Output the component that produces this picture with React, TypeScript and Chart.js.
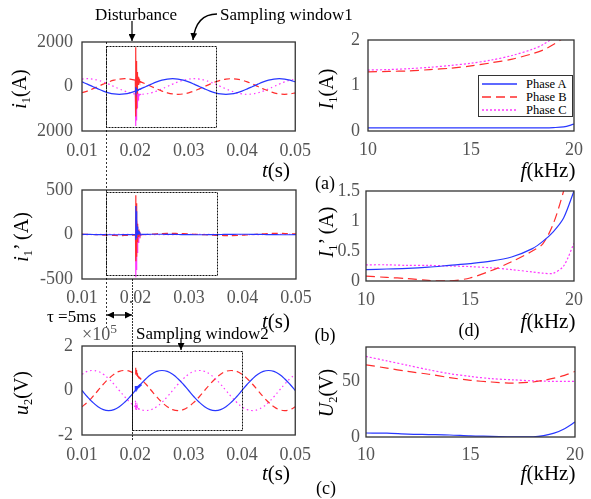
import React, { useEffect, useRef } from "react";
import { Chart, registerables } from "chart.js";

Chart.register(...registerables);

const FONT = '"Liberation Serif", "Times New Roman", serif';
const BLUE = "rgb(40,55,255)";
const RED = "rgb(255,45,45)";
const MAGENTA = "rgb(255,55,255)";
const TICK_COLOR = "#555";

// ---------- time-domain data (s) ----------
const tTime = [0.010,0.011,0.012,0.013,0.014,0.015,0.016,0.017,0.018,0.019,0.020,0.021,0.022,0.023,0.024,0.025,0.026,0.027,0.028,0.029,0.030,0.031,0.032,0.033,0.034,0.035,0.036,0.037,0.038,0.039,0.040,0.041,0.042,0.043,0.044,0.045,0.046,0.047,0.048,0.049,0.050];
const spikeTime = [0.02,0.02004,0.02008,0.02012,0.02016,0.0202,0.02024,0.02028,0.02032,0.02036,0.0204,0.02046,0.02052,0.02058,0.02064,0.0207,0.0208,0.0209,0.021];

// i1 (A)
const i1A = [206,108,0,-108,-206,-283,-333,-350,-333,-283,-206,-108,0,108,206,283,333,350,333,283,206,108,0,-108,-206,-283,-333,-350,-333,-283,-206,-108,0,108,206,283,333,350,333,283,206];
const i1B = [-283,-206,-108,0,108,206,283,333,350,333,283,206,108,0,-108,-206,-283,-333,-350,-333,-283,-206,-108,0,108,206,283,333,350,333,283,206,108,0,-108,-206,-283,-333,-350,-333,-283];
const i1C = [333,350,333,283,206,108,0,-108,-206,-283,-333,-350,-333,-283,-206,-108,0,108,206,283,333,350,333,283,206,108,0,-108,-206,-283,-333,-350,-333,-283,-206,-108,0,108,206,283,333];
const i1ASpike = [-206,-60,-280,-20,-240,-80,-200,-120,-180,-140,-170,-150,-160,-150,-140,-130,-120,-112,-108];
const i1BSpike = [283,1760,-1350,1500,-1000,1150,-600,850,-300,650,0,520,100,420,160,330,240,220,206];
const i1CSpike = [-333,250,-1780,400,-1500,100,-1200,-100,-950,-200,-750,-280,-600,-330,-480,-380,-360,-352,-350];

// i1' (A)
const i1pA = [2,1,0,-1,-2,-3,-3,-3,-2,-1,0,1,2,3,3,3,2,1,0,-1,-2,-3,-3,-3,-2,-1,0,1,2,3,3,3,2,1,0,-1,-2,-3,-3,-3,-2];
const i1pB = [4,2,0,-3,-6,-9,-11,-12,-11,-9,-6,-3,0,4,8,11,12,12,11,9,6,3,0,-3,-6,-9,-11,-12,-12,-11,-8,-4,0,4,8,11,12,12,11,9,6];
const i1pC = [-2,-1,0,1,2,3,3,3,2,1,0,-1,-2,-3,-3,-3,-2,-1,0,1,2,3,3,3,2,1,0,-1,-2,-3,-3,-3,-2,-1,0,1,2,3,3,3,2];
const i1pASpike = [0,320,-60,260,-40,200,-20,140,0,90,10,60,15,40,15,25,10,5,0];
const i1pBSpike = [0,440,-300,350,-250,250,-150,180,-80,120,-40,80,-20,50,-10,30,5,2,0];
const i1pCSpike = [0,200,-480,150,-400,80,-300,40,-200,20,-140,10,-90,0,-50,-10,-20,-5,0];

// u2 (x10^5 V)
const u2A = [0,-0.28,-0.53,-0.73,-0.86,-0.9,-0.86,-0.73,-0.53,-0.28,0,0.28,0.53,0.73,0.86,0.9,0.86,0.73,0.53,0.28,0,-0.28,-0.53,-0.73,-0.86,-0.9,-0.86,-0.73,-0.53,-0.28,0,0.28,0.53,0.73,0.86,0.9,0.86,0.73,0.53,0.28,0];
const u2B = [-0.73,-0.53,-0.28,0,0.28,0.53,0.73,0.86,0.9,0.86,0.73,0.53,0.28,0,-0.28,-0.53,-0.73,-0.86,-0.9,-0.86,-0.73,-0.53,-0.28,0,0.28,0.53,0.73,0.86,0.9,0.86,0.73,0.53,0.28,0,-0.28,-0.53,-0.73,-0.86,-0.9,-0.86,-0.73];
const u2C = [0.73,0.86,0.9,0.86,0.73,0.53,0.28,0,-0.28,-0.53,-0.73,-0.86,-0.9,-0.86,-0.73,-0.53,-0.28,0,0.28,0.53,0.73,0.86,0.9,0.86,0.73,0.53,0.28,0,-0.28,-0.53,-0.73,-0.86,-0.9,-0.86,-0.73,-0.53,-0.28,0,0.28,0.53,0.73];
const u2ASpike = [0,0.18,0.02,0.2,0.06,0.2,0.1,0.18,0.12,0.18,0.14,0.17,0.16,0.18,0.19,0.2,0.23,0.25,0.28];
const u2BSpike = [0.73,1.02,0.78,0.98,0.8,0.92,0.76,0.85,0.72,0.78,0.68,0.7,0.64,0.64,0.6,0.6,0.57,0.55,0.53];
const u2CSpike = [-0.73,-0.45,-0.9,-0.55,-0.88,-0.65,-0.86,-0.7,-0.84,-0.75,-0.82,-0.78,-0.82,-0.8,-0.83,-0.84,-0.85,-0.855,-0.86];

// sampling windows
const window1T = [0.0145, 0.0352];
const window1I1 = [-1830, 1820];
const window1I1p = [-460, 475];
const window2T = [0.0194, 0.04];
const window2U2 = [-1.78, 1.78];

// ---------- frequency-domain data (kHz) ----------
const freqKHz = [10,11,12,13,14,15,16,17,18,18.5,19,19.5,20];
const I1A = [0.07,0.07,0.07,0.07,0.07,0.07,0.07,0.07,0.07,0.07,0.075,0.09,0.15];
const I1B = [1.30,1.31,1.32,1.35,1.38,1.43,1.50,1.58,1.70,1.78,1.90,2.05,2.25];
const I1C = [1.34,1.35,1.37,1.40,1.44,1.49,1.56,1.66,1.80,1.90,2.05,2.25,2.5];
const I1pA = [0.19,0.20,0.21,0.23,0.26,0.29,0.33,0.40,0.54,0.66,0.82,1.05,1.5];
const I1pB = [0.08,0.06,0.04,0.01,0.0,0.05,0.17,0.32,0.5,0.62,0.95,1.5,2.2];
const I1pC = [0.27,0.27,0.26,0.26,0.25,0.24,0.22,0.19,0.15,0.13,0.13,0.25,0.63];
const U2A = [3.6,3.4,2.6,2.2,1.8,1.0,0.6,0.1,0.1,1.2,3.5,7.5,13.5];
const U2B = [65,62,59,56.5,53.5,51,49.5,48.5,49.5,51,53,55.5,59];
const U2C = [72.5,68.5,64.5,60.5,57,54.5,52.5,51.5,50.5,50.3,50,50,50];

const legendLabels = ["Phase A", "Phase B", "Phase C"];

type Series = { x: number[]; y: number[]; color: string; dash: number[]; tension?: number; width?: number };
type Axis = { min: number; max: number; step: number; pad: number; fmt: (v: number) => string };
type PlotSpec = {
  canvas: { left: number; top: number; width: number; height: number };
  area: { left: number; top: number; right: number; bottom: number };
  x: Axis;
  y: Axis;
  series: Series[];
  box?: { t: number[]; v: number[] };
};

const DASH: number[] = [6, 4];
const DOT: number[] = [1.5, 3];
const RDASH: number[] = [9, 5];
const RDOT: number[] = [2, 2];

const tAxis: Axis = { min: 0.01, max: 0.05, step: 0.01, pad: 9, fmt: (v) => v.toFixed(2) };
const fAxis: Axis = { min: 10, max: 20, step: 5, pad: 8, fmt: (v) => String(v) };

const specs: PlotSpec[] = [
  {
    canvas: { left: 0, top: 0, width: 320, height: 160 },
    area: { left: 82, top: 42, right: 296, bottom: 131 },
    x: tAxis,
    y: { min: -2000, max: 2000, step: 2000, pad: 9, fmt: (v) => String(Math.abs(v)) },
    series: [
      { x: spikeTime, y: i1ASpike, color: BLUE, dash: [] },
      { x: spikeTime, y: i1BSpike, color: RED, dash: [] },
      { x: spikeTime, y: i1CSpike, color: MAGENTA, dash: [] },
      { x: tTime, y: i1A, color: BLUE, dash: [], tension: 0.4 },
      { x: tTime, y: i1B, color: RED, dash: DASH, tension: 0.4 },
      { x: tTime, y: i1C, color: MAGENTA, dash: DOT, tension: 0.4 },
    ],
    box: { t: window1T, v: window1I1 },
  },
  {
    canvas: { left: 0, top: 160, width: 320, height: 160 },
    area: { left: 82, top: 190, right: 296, bottom: 279 },
    x: { ...tAxis, pad: 8 },
    y: { min: -500, max: 500, step: 500, pad: 9, fmt: (v) => String(v) },
    series: [
      { x: spikeTime, y: i1pASpike, color: BLUE, dash: [] },
      { x: spikeTime, y: i1pBSpike, color: RED, dash: [] },
      { x: spikeTime, y: i1pCSpike, color: MAGENTA, dash: [] },
      { x: tTime, y: i1pA, color: BLUE, dash: [], tension: 0.4 },
      { x: tTime, y: i1pB, color: RED, dash: DASH, tension: 0.4 },
      { x: tTime, y: i1pC, color: MAGENTA, dash: DOT, tension: 0.4 },
    ],
    box: { t: window1T, v: window1I1p },
  },
  {
    canvas: { left: 0, top: 320, width: 320, height: 179 },
    area: { left: 82, top: 346, right: 296, bottom: 435 },
    x: { ...tAxis, pad: 9 },
    y: { min: -2, max: 2, step: 2, pad: 9, fmt: (v) => String(v) },
    series: [
      { x: spikeTime, y: u2ASpike, color: BLUE, dash: [], width: 2 },
      { x: spikeTime, y: u2BSpike, color: RED, dash: [] },
      { x: spikeTime, y: u2CSpike, color: MAGENTA, dash: DOT },
      { x: tTime, y: u2A, color: BLUE, dash: [], tension: 0.4 },
      { x: tTime, y: u2B, color: RED, dash: DASH, tension: 0.4 },
      { x: tTime, y: u2C, color: MAGENTA, dash: DOT, tension: 0.4 },
    ],
    box: { t: window2T, v: window2U2 },
  },
  {
    canvas: { left: 300, top: 0, width: 291, height: 160 },
    area: { left: 368, top: 40, right: 582, bottom: 131 },
    x: fAxis,
    y: { min: 0, max: 2, step: 1, pad: 8, fmt: (v) => String(v) },
    series: [
      { x: freqKHz, y: I1A, color: BLUE, dash: [], tension: 0.3 },
      { x: freqKHz, y: I1B, color: RED, dash: RDASH, tension: 0.3 },
      { x: freqKHz, y: I1C, color: MAGENTA, dash: RDOT, tension: 0.3 },
    ],
  },
  {
    canvas: { left: 300, top: 160, width: 291, height: 160 },
    area: { left: 366, top: 191, right: 582, bottom: 281 },
    x: fAxis,
    y: { min: 0, max: 1.5, step: 0.5, pad: 6, fmt: (v) => String(v) },
    series: [
      { x: freqKHz, y: I1pA, color: BLUE, dash: [], tension: 0.3 },
      { x: freqKHz, y: I1pB, color: RED, dash: RDASH, tension: 0.3 },
      { x: freqKHz, y: I1pC, color: MAGENTA, dash: RDOT, tension: 0.3 },
    ],
  },
  {
    canvas: { left: 300, top: 320, width: 291, height: 179 },
    area: { left: 366, top: 347, right: 582, bottom: 437 },
    x: { ...fAxis, pad: 7 },
    y: { min: 0, max: 81, step: 50, pad: 6, fmt: (v) => String(v) },
    series: [
      { x: freqKHz, y: U2A, color: BLUE, dash: [], tension: 0.3 },
      { x: freqKHz, y: U2B, color: RED, dash: RDASH, tension: 0.3 },
      { x: freqKHz, y: U2C, color: MAGENTA, dash: RDOT, tension: 0.3 },
    ],
  },
];

function makeFramePlugin(spec: PlotSpec) {
  return {
    id: "frameAndWindow",
    afterDatasetsDraw(chart: any) {
      const { ctx, chartArea: a } = chart;
      ctx.save();
      if (spec.box) {
        const xs = chart.scales.x;
        const ys = chart.scales.y;
        const x0 = Math.round(xs.getPixelForValue(spec.box.t[0])) + 0.5;
        const x1 = Math.round(xs.getPixelForValue(spec.box.t[1])) + 0.5;
        const y0 = Math.round(ys.getPixelForValue(spec.box.v[1])) + 0.5;
        const y1 = Math.round(ys.getPixelForValue(spec.box.v[0])) + 0.5;
        ctx.setLineDash([2, 1]);
        ctx.strokeStyle = "#111";
        ctx.lineWidth = 1;
        ctx.strokeRect(x0, y0, x1 - x0, y1 - y0);
      }
      ctx.setLineDash([]);
      ctx.strokeStyle = "#333";
      ctx.lineWidth = 1.3;
      ctx.strokeRect(a.left, a.top, a.right - a.left, a.bottom - a.top);
      ctx.restore();
    },
  };
}

function Plot({ spec }: { spec: PlotSpec }) {
  const ref = useRef<HTMLCanvasElement>(null);
  const c = spec.canvas;
  const a = spec.area;
  useEffect(() => {
    if (!ref.current) return;
    const tickFont = { family: FONT, size: 18 };
    const chart = new Chart(ref.current, {
      type: "line",
      data: {
        datasets: spec.series.map((s) => ({
          data: s.x.map((x, i) => ({ x, y: s.y[i] })),
          borderColor: s.color,
          borderWidth: s.width ?? 1.2,
          borderDash: s.dash,
          pointRadius: 0,
          tension: s.tension ?? 0,
          fill: false,
        })),
      },
      options: {
        animation: false,
        responsive: false,
        maintainAspectRatio: false,
        devicePixelRatio: 1,
        events: [],
        layout: {
          padding: { left: 0, top: a.top - c.top, right: c.left + c.width - a.right, bottom: 0 },
        },
        plugins: { legend: { display: false }, tooltip: { enabled: false } },
        scales: {
          x: {
            type: "linear",
            min: spec.x.min,
            max: spec.x.max,
            grid: { display: false, drawTicks: false },
            border: { display: false },
            ticks: {
              stepSize: spec.x.step,
              callback: (v: any) => spec.x.fmt(Number(v)),
              padding: spec.x.pad,
              color: TICK_COLOR,
              font: tickFont,
              maxRotation: 0,
              autoSkip: false,
              includeBounds: false,
            },
            afterFit: (s: any) => {
              s.height = c.top + c.height - a.bottom;
            },
          },
          y: {
            type: "linear",
            min: spec.y.min,
            max: spec.y.max,
            grid: { display: false, drawTicks: false },
            border: { display: false },
            ticks: {
              stepSize: spec.y.step,
              callback: (v: any) => spec.y.fmt(Number(v)),
              padding: spec.y.pad,
              color: TICK_COLOR,
              font: tickFont,
              autoSkip: false,
              includeBounds: false,
            },
            afterFit: (s: any) => {
              s.width = a.left - c.left;
            },
          },
        },
      } as any,
      plugins: [makeFramePlugin(spec)],
    });
    return () => chart.destroy();
  }, [spec]);
  return (
    <canvas
      ref={ref}
      width={c.width}
      height={c.height}
      style={{ position: "absolute", left: c.left, top: c.top, width: c.width, height: c.height }}
    />
  );
}

function Label({
  x, y, size = 17, rot = false, align = "center", color = "#000", children,
}: { x: number; y: number; size?: number; rot?: boolean; align?: "center" | "left"; color?: string; children: React.ReactNode }) {
  const tx = align === "left" ? "0" : "-50%";
  return (
    <div
      style={{
        position: "absolute",
        left: x,
        top: y,
        transform: `translate(${tx},-50%)${rot ? " rotate(-90deg)" : ""}`,
        fontSize: size,
        fontFamily: FONT,
        color,
        whiteSpace: "nowrap",
        lineHeight: 1,
      }}
    >
      {children}
    </div>
  );
}

const Sub = ({ children }: { children: React.ReactNode }) => (
  <span style={{ fontSize: "0.62em", position: "relative", top: "0.3em" }}>{children}</span>
);

function Legend() {
  const colors = [BLUE, RED, MAGENTA];
  const dashes = ["", "9,5", "2,2"];
  const rowY = [8, 21, 34];
  return (
    <div
      style={{
        position: "absolute", left: 478, top: 75, width: 95, height: 42,
        border: "1px solid #333", background: "#fff", boxSizing: "border-box",
      }}
    >
      <svg width={95} height={42} style={{ position: "absolute", left: 0, top: 0 }}>
        {legendLabels.map((_, i) => (
          <line key={i} x1={3} x2={38} y1={rowY[i]} y2={rowY[i]}
            stroke={colors[i]} strokeWidth={1.3} strokeDasharray={dashes[i] || undefined} />
        ))}
      </svg>
      {legendLabels.map((t, i) => (
        <div key={t} style={{
          position: "absolute", left: 47, top: rowY[i], transform: "translateY(-50%)",
          fontFamily: FONT, fontSize: 12.5, lineHeight: 1, whiteSpace: "nowrap", color: "#000",
        }}>{t}</div>
      ))}
    </div>
  );
}

function Overlay() {
  return (
    <svg width={591} height={499} style={{ position: "absolute", left: 0, top: 0, pointerEvents: "none" }}>
      <defs>
        <marker id="ah" markerWidth="7" markerHeight="7" refX="7" refY="3.5" orient="auto-start-reverse" markerUnits="userSpaceOnUse">
          <path d="M0,0 L7,3.5 L0,7 z" fill="#000" />
        </marker>
      </defs>
      {/* Disturbance arrow */}
      <line x1={132} y1={21} x2={132} y2={41} stroke="#000" strokeWidth={1.2} markerEnd="url(#ah)" />
      {/* Sampling window1 curved arrow */}
      <path d="M 217 14 Q 196 14 193 40" fill="none" stroke="#000" strokeWidth={1.4} markerEnd="url(#ah)" />
      {/* dashed vertical line (window1 start) */}
      <line x1={106.5} y1={42} x2={106.5} y2={330} stroke="#000" strokeWidth={0.8} strokeDasharray="2,2" />
      {/* vertical line (window2 start) */}
      <line x1={132.5} y1={279} x2={132.5} y2={441} stroke="#000" strokeWidth={0.8} strokeDasharray="2,1" />
      {/* tau arrow */}
      <line x1={107} y1={315} x2={132} y2={315} stroke="#000" strokeWidth={1.2} markerStart="url(#ah)" markerEnd="url(#ah)" />
      {/* Sampling window2 arrow */}
      <line x1={181} y1={338} x2={181} y2={350} stroke="#000" strokeWidth={1.2} markerEnd="url(#ah)" />
    </svg>
  );
}

export default function App() {
  return (
    <div style={{ position: "absolute", left: 0, top: 0, width: 591, height: 499, background: "#fff", overflow: "hidden" }}>
      {specs.map((s, i) => (
        <Plot key={i} spec={s} />
      ))}
      <Overlay />
      <Legend />

      {/* annotations */}
      <Label x={95} y={14} align="left">Disturbance</Label>
      <Label x={220} y={14} align="left">Sampling window1</Label>
      <Label x={136} y={333} align="left">Sampling window2</Label>
      <Label x={47} y={316} align="left">τ =5ms</Label>
      <Label x={82} y={334} align="left" size={18} color={TICK_COLOR}>
        ×10<span style={{ fontSize: "0.75em", position: "relative", top: "-0.55em" }}>5</span>
      </Label>

      {/* y-axis titles */}
      <Label x={19} y={89} size={20} rot><i>i</i><Sub>1</Sub>(A)</Label>
      <Label x={21} y={237} size={20} rot><i>i</i><Sub>1</Sub>’ (A)</Label>
      <Label x={21} y={393} size={20} rot><i>u</i><Sub>2</Sub>(V)</Label>
      <Label x={326} y={89} size={20} rot><i>I</i><Sub>1</Sub>(A)</Label>
      <Label x={326} y={232} size={20} rot><i>I</i><Sub>1</Sub>’ (A)</Label>
      <Label x={326} y={393} size={20} rot><i>U</i><Sub>2</Sub>(V)</Label>

      {/* x-axis titles */}
      <Label x={276} y={170} size={21}><i>t</i>(s)</Label>
      <Label x={276} y={321} size={21}><i>t</i>(s)</Label>
      <Label x={276} y={473} size={21}><i>t</i>(s)</Label>
      <Label x={548} y={170} size={21}><i>f</i>(kHz)</Label>
      <Label x={548} y={321} size={21}><i>f</i>(kHz)</Label>
      <Label x={548} y={473} size={21}><i>f</i>(kHz)</Label>

      {/* panel tags */}
      <Label x={325} y={183} size={18}>(a)</Label>
      <Label x={325} y={335} size={18}>(b)</Label>
      <Label x={469} y={330} size={18}>(d)</Label>
      <Label x={326} y={488} size={18}>(c)</Label>
    </div>
  );
}
